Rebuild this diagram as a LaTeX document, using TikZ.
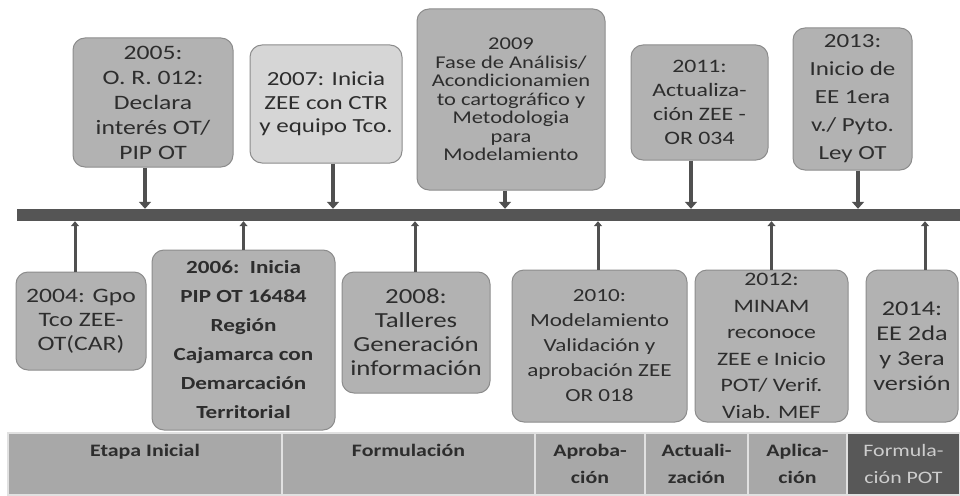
\documentclass[tikz,border=0pt]{standalone}
\usepackage{fontspec}
\setmainfont{Carlito}[FakeStretch=1.25]
\usetikzlibrary{arrows.meta}

\newcommand{\tlsize}[2]{\fontsize{#1}{#2}\selectfont}

\begin{document}
\begin{tikzpicture}[x=1pt, y=-1pt,
    evt/.style={draw=boxline, fill=boxfill, rounded corners=12pt, line width=1pt,
        align=center, text=txt, inner sep=1pt},
    phase/.style={draw=bandline, fill=bandfill, line width=1.5pt, align=center,
        text=txt, inner sep=0pt, minimum height=62, font=\bfseries\tlsize{17.5}{27}},
    downarr/.style={draw=arrc, line width=4pt, -{Triangle[width=12pt,length=7pt]}},
    uparr/.style={draw=arrc, line width=3pt, -{Triangle[width=8pt,length=5pt]}}]
    \definecolor{boxfill}{RGB}{178,178,178}
    \definecolor{boxlight}{RGB}{214,214,214}
    \definecolor{boxline}{RGB}{140,140,140}
    \definecolor{bandfill}{RGB}{168,168,168}
    \definecolor{bandline}{RGB}{225,225,225}
    \definecolor{banddark}{RGB}{88,88,88}
    \definecolor{bandtext}{RGB}{205,205,205}
    \definecolor{arrc}{RGB}{80,80,80}
    \definecolor{barc}{RGB}{85,85,85}
    \definecolor{txt}{RGB}{45,45,45}
    \def\bandmid{464}
    \useasboundingbox (0,0) rectangle (960,495);
    % time axis
    \node[fill=barc, inner sep=0pt, minimum width=943, minimum height=12] (axis) at (488.5,215) {};
    % events above the axis
    \node[evt, minimum width=160, minimum height=129, font=\tlsize{20.5}{25}] (b2005) at (153,102.5) {2005:\\O. R. 012:\\Declara\\interés OT/\\PIP OT};
    \node[evt, fill=boxlight, minimum width=152, minimum height=118, font=\tlsize{20}{23.5}] (b2007) at (326,104) {2007: Inicia\\ZEE con CTR\\y equipo Tco.};
    \node[evt, minimum width=188, minimum height=181, font=\tlsize{18}{18.5}] (b2009) at (511,99.5) {2009\\Fase de Análisis/\\Acondicionamien\\to cartográfico y\\Metodologia\\para\\Modelamiento};
    \node[evt, minimum width=137, minimum height=115, font=\tlsize{19}{24}] (b2011) at (699.5,102.5) {2011:\\Actualiza-\\ción ZEE -\\OR 034};
    \node[evt, minimum width=119, minimum height=142, font=\tlsize{20}{28}] (b2013) at (852.5,99) {2013:\\Inicio de\\EE 1era\\v./ Pyto.\\Ley OT};
    % events below the axis
    \node[evt, minimum width=130, minimum height=98, font=\tlsize{20.5}{24}] (b2004) at (81,321) {2004: Gpo\\Tco ZEE-\\OT(CAR)};
    \node[evt, minimum width=183, minimum height=180, font=\bfseries\tlsize{18.5}{29}] (b2006) at (243.5,340) {2006:~~Inicia\\PIP OT 16484\\Región\\Cajamarca con\\Demarcación\\Territorial};
    \node[evt, minimum width=148, minimum height=121, font=\tlsize{21.5}{24}] (b2008) at (416,332.5) {2008:\\Talleres\\Generación\\información};
    \node[evt, minimum width=175, minimum height=152, font=\tlsize{18.5}{25}] (b2010) at (599.5,346) {2010:\\Modelamiento\\Validación y\\aprobación ZEE\\OR 018};
    \node[evt, minimum width=153, minimum height=152, font=\tlsize{19}{26.5}] (b2012) at (771.5,346) {2012:\\MINAM\\reconoce\\ZEE e Inicio\\POT/ Verif.\\Viab. MEF};
    \node[evt, minimum width=92, minimum height=152, font=\tlsize{21}{25}] (b2014) at (912,346) {2014:\\EE 2da\\y 3era\\versión};
    % connectors
    \draw[downarr] ([xshift=-8pt]b2005.south) -- ([xshift=-8pt]b2005.south |- axis.north);
    \draw[downarr] ([xshift=7pt]b2007.south) -- ([xshift=7pt]b2007.south |- axis.north);
    \draw[downarr] ([xshift=-6pt]b2009.south) -- ([xshift=-6pt]b2009.south |- axis.north);
    \draw[downarr] ([xshift=-8.5pt]b2011.south) -- ([xshift=-8.5pt]b2011.south |- axis.north);
    \draw[downarr] ([xshift=5.5pt]b2013.south) -- ([xshift=5.5pt]b2013.south |- axis.north);
    \draw[uparr] ([xshift=-6pt]b2004.north) -- ([xshift=-6pt]b2004.north |- axis.south);
    \draw[uparr] (b2006.north) -- (b2006.north |- axis.south);
    \draw[uparr] ([xshift=-1pt]b2008.north) -- ([xshift=-1pt]b2008.north |- axis.south);
    \draw[uparr] ([xshift=-1.5pt]b2010.north) -- ([xshift=-1.5pt]b2010.north |- axis.south);
    \draw[uparr] (b2012.north) -- (b2012.north |- axis.south);
    \draw[uparr] ([xshift=13pt]b2014.north) -- ([xshift=13pt]b2014.north |- axis.south);
    % phases
    \node[phase, minimum width=274] (p1) at (145,\bandmid) {Etapa Inicial\\\mbox{}};
    \node[phase, minimum width=253] (p2) at (408.5,\bandmid) {Formulación\\\mbox{}};
    \node[phase, minimum width=110] (p3) at (590,\bandmid) {Aproba-\\ción};
    \node[phase, minimum width=103] (p4) at (696.5,\bandmid) {Actuali-\\zación};
    \node[phase, minimum width=99] (p5) at (797.5,\bandmid) {Aplica-\\ción};
    \node[phase, fill=banddark, text=bandtext, minimum width=113, font=\tlsize{17.5}{27}] (p6) at (903.5,\bandmid) {Formula-\\ción POT};
\end{tikzpicture}
\end{document}
